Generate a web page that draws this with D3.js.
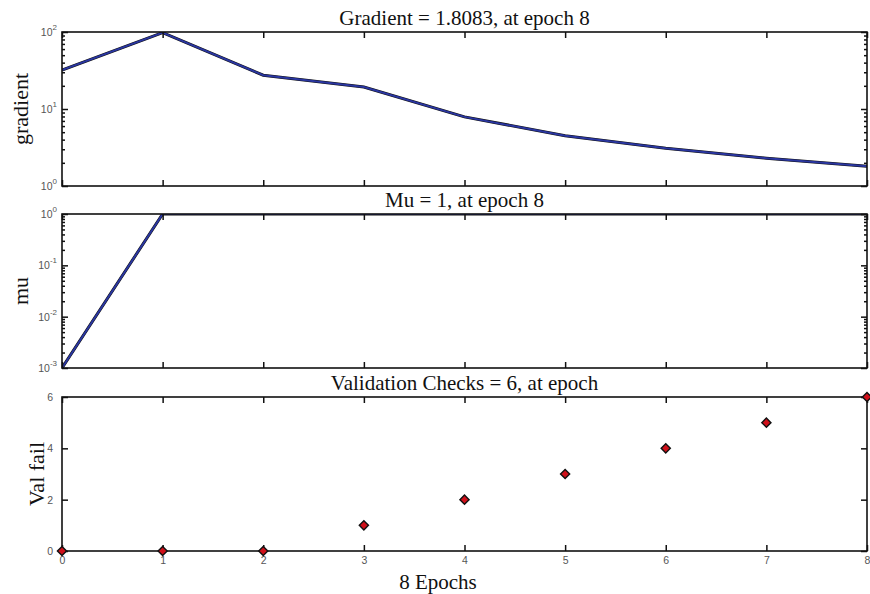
<html>
<head>
<script src="https://cdn.jsdelivr.net/npm/d3@7"></script>
<style>
  body { margin: 0; background: #fff; }
  svg { display: block; }
</style>
</head>
<body>
<svg id="chart"></svg>
<script>
// data
const epochs = [0, 1, 2, 3, 4, 5, 6, 7, 8]
const gradient = [32, 98, 27.5, 19.3, 7.9, 4.5, 3.1, 2.3, 1.8083]
const mu = [0.001, 1, 1, 1, 1, 1, 1, 1, 1]
const valFail = [0, 0, 0, 1, 2, 3, 4, 5, 6]
const valTicks = [0, 2, 4, 6]
const titles = ["Gradient = 1.8083, at epoch 8", "Mu = 1, at epoch 8", "Validation Checks = 6, at epoch"]
const yLabels = ["gradient", "mu", "Val fail"]

const WIDTH = 870
const HEIGHT = 594
const LEFT = 62
const PLOT_W = 805
const PLOT_H = 154
const TOPS = [32, 214, 397]
const LINE_COLOR = "#2a36a0"
const SERIF = "'Liberation Serif', 'DejaVu Serif', serif"
const SANS = "'Liberation Sans', Arial, sans-serif"

const svg = d3.select("#chart").attr("width", WIDTH).attr("height", HEIGHT)

svg.append("clipPath").attr("id", "plotclip")
    .append("rect").attr("width", PLOT_W).attr("height", PLOT_H)

const x = d3.scaleLinear().domain([0, 8]).range([0, PLOT_W])

function superLabel(sel) {
    // turn tick text into 10 with a superscript exponent
    sel.selectAll(".tick text").each(function(d) {
        const t = d3.select(this)
        t.text("10")
        t.append("tspan").attr("dy", -6).attr("font-size", 8).text(Math.round(Math.log10(d)))
    })
}

function drawFrame(g, y, opts) {
    // box
    g.append("rect")
        .attr("width", PLOT_W).attr("height", PLOT_H)
        .attr("fill", "none").attr("stroke", "#111").attr("stroke-width", 1.6)

    // x ticks, bottom and top, pointing inward
    g.append("g").attr("transform", `translate(0,${PLOT_H})`)
        .call(d3.axisBottom(x).ticks(8).tickSizeInner(-6).tickSizeOuter(0).tickPadding(6)
            .tickFormat(opts.xLabels ? d3.format("d") : ""))
    g.append("g")
        .call(d3.axisTop(x).ticks(8).tickSizeInner(-6).tickSizeOuter(0).tickFormat(""))

    if (opts.log) {
        const major = y.ticks().filter(v => Math.abs(Math.log10(v) - Math.round(Math.log10(v))) < 1e-9)
        const minor = y.ticks().filter(v => !major.includes(v))
        const yl = g.append("g")
            .call(d3.axisLeft(y).tickValues(major).tickSizeInner(-6).tickSizeOuter(0).tickPadding(5))
        superLabel(yl)
        g.append("g")
            .call(d3.axisLeft(y).tickValues(minor).tickSizeInner(-3).tickSizeOuter(0).tickFormat(""))
        g.append("g").attr("transform", `translate(${PLOT_W},0)`)
            .call(d3.axisRight(y).tickValues(major).tickSizeInner(-6).tickSizeOuter(0).tickFormat(""))
        g.append("g").attr("transform", `translate(${PLOT_W},0)`)
            .call(d3.axisRight(y).tickValues(minor).tickSizeInner(-3).tickSizeOuter(0).tickFormat(""))
    } else {
        g.append("g")
            .call(d3.axisLeft(y).tickValues(valTicks).tickSizeInner(-6).tickSizeOuter(0).tickPadding(9)
                .tickFormat(d3.format("d")))
        g.append("g").attr("transform", `translate(${PLOT_W},0)`)
            .call(d3.axisRight(y).tickValues(valTicks).tickSizeInner(-6).tickSizeOuter(0).tickFormat(""))
    }

    g.selectAll(".domain").remove()
    g.selectAll(".tick line").attr("stroke", "#111").attr("stroke-width", 1.5)
    g.selectAll(".tick text").attr("fill", "#555").attr("font-family", SANS).attr("font-size", 10.5)
}

function panel(i) {
    return svg.append("g").attr("transform", `translate(${LEFT},${TOPS[i]})`)
}

function drawLine(g, values, y) {
    const line = d3.line().x((d, i) => x(epochs[i])).y(d => y(d))
    const body = g.append("g").attr("clip-path", "url(#plotclip)")
    body.append("path").datum(values).attr("d", line)
        .attr("fill", "none").attr("stroke", "#111").attr("stroke-width", 3)
    body.append("path").datum(values).attr("d", line)
        .attr("fill", "none").attr("stroke", LINE_COLOR).attr("stroke-width", 2)
}

//-------------------------- Gradient --------------------------
const g1 = panel(0)
const y1 = d3.scaleLog().domain([1, 100]).range([PLOT_H, 0])
drawLine(g1, gradient, y1)
drawFrame(g1, y1, {log: true, xLabels: false})

//-------------------------- Mu --------------------------
const g2 = panel(1)
const y2 = d3.scaleLog().domain([0.001, 1]).range([PLOT_H, 0])
drawLine(g2, mu, y2)
drawFrame(g2, y2, {log: true, xLabels: false})

//-------------------------- Validation checks --------------------------
const g3 = panel(2)
const y3 = d3.scaleLinear().domain([0, 6]).range([PLOT_H, 0])
drawFrame(g3, y3, {log: false, xLabels: true})
g3.selectAll(".marker")
    .data(valFail)
    .enter()
    .append("path")
    .attr("class", "marker")
    .attr("d", d3.symbol(d3.symbolSquare, 42))
    .attr("transform", (d, i) => `translate(${x(epochs[i])},${y3(d)}) rotate(45)`)
    .attr("fill", "#d0101a")
    .attr("stroke", "#111")
    .attr("stroke-width", 1.4)

//-------------------------- Texts --------------------------
titles.forEach((t, i) => {
    svg.append("text")
        .attr("x", LEFT + PLOT_W / 2).attr("y", TOPS[i] - 7)
        .attr("text-anchor", "middle")
        .attr("font-family", SERIF).attr("font-size", 21).attr("fill", "#111")
        .text(t)
})

const labelX = [28, 28, 44]
yLabels.forEach((t, i) => {
    const cy = TOPS[i] + PLOT_H / 2
    svg.append("text")
        .attr("transform", `translate(${labelX[i]},${cy}) rotate(-90)`)
        .attr("text-anchor", "middle")
        .attr("font-family", SERIF).attr("font-size", 22).attr("fill", "#111")
        .text(t)
})

svg.append("text")
    .attr("x", 438).attr("y", 589)
    .attr("text-anchor", "middle")
    .attr("font-family", SERIF).attr("font-size", 21).attr("fill", "#111")
    .text("8  Epochs")
</script>
</body>
</html>
